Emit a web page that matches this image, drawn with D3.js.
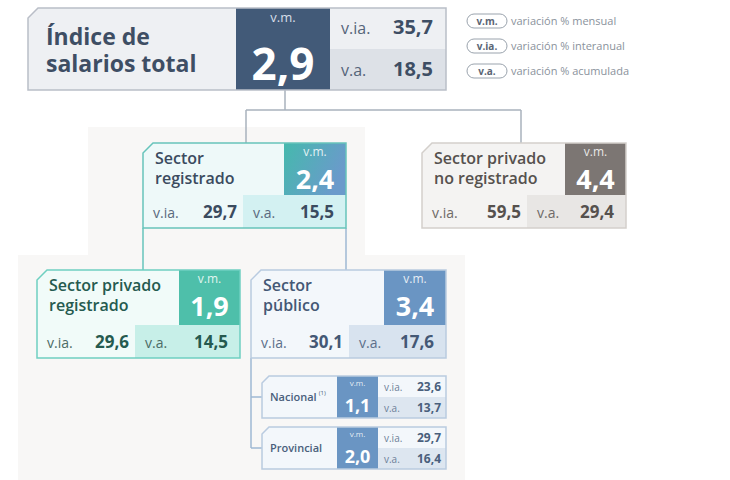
<!DOCTYPE html>
<html><head><meta charset="utf-8">
<script src="https://cdn.jsdelivr.net/npm/d3@7"></script>
<style>body{margin:0;background:#fff}svg{font-family:"Open Sans",sans-serif}</style>
</head><body><svg id="chart" width="730" height="480"></svg>
<script>
var svg = d3.select("#chart");

// background panels
svg.append("path").attr("fill", "#f8f7f6")
    .attr("d", "M88,127H365V255H465V480H18V255H88Z");

// nodes: box, vm block, bottom split, colours
var nodes = [
    {id: "total", title: ["Índice de", "salarios total"], vm: "2,9", via: "35,7", va: "18,5",
        x: 28, y: 8, w: 418, h: 82, vmx: 236, vmw: 94, layout: "right",
        border: "#b9bec7", bg: "#eef0f3", bg2: "#dde1e7", vmc: "#425a78", tc: "#3e4e64", lc: "#55657a", ts: 23},
    {id: "reg", title: ["Sector", "registrado"], vm: "2,4", via: "29,7", va: "15,5",
        x: 143, y: 143, w: 203, h: 85, vmx: 284, vmw: 62, split: 243, top: 52, layout: "bottom",
        border: "#67c4bb", bg: "#eef9f9", bg2: "#d3f1f2", vmc: "url(#gReg)", tc: "#3b4b5f", lc: "#5a6a7e", ts: 16},
    {id: "noreg", title: ["Sector privado", "no registrado"], vm: "4,4", via: "59,5", va: "29,4",
        x: 422, y: 143, w: 204, h: 85, vmx: 565, vmw: 61, split: 527, top: 52, layout: "bottom",
        border: "#d3cfcb", bg: "#f4f3f2", bg2: "#e8e6e4", vmc: "#7c7673", tc: "#56514e", lc: "#6f6a67", ts: 16},
    {id: "priv", title: ["Sector privado", "registrado"], vm: "1,9", via: "29,6", va: "14,5",
        x: 37, y: 270, w: 203, h: 88, vmx: 179, vmw: 61, split: 135, top: 55, layout: "bottom",
        border: "#6fd0c1", bg: "#f1fbf9", bg2: "#c7efe8", vmc: "#4ebfaa", tc: "#255a4f", lc: "#4c6c66", ts: 16},
    {id: "pub", title: ["Sector", "público"], vm: "3,4", via: "30,1", va: "17,6",
        x: 251, y: 270, w: 195, h: 88, vmx: 384, vmw: 62, split: 349, top: 55, layout: "bottom",
        border: "#b9cbe0", bg: "#f3f7fb", bg2: "#d8e3ef", vmc: "#6a95c3", tc: "#445875", lc: "#5c6f8a", ts: 16},
    {id: "nac", title: ["Nacional"], sup: "(1)", vm: "1,1", via: "23,6", va: "13,7",
        x: 262, y: 376, w: 184, h: 42, vmx: 337, vmw: 41, layout: "small",
        border: "#b9cbe0", bg: "#f3f7fb", bg2: "#dde6f0", vmc: "#6a95c3", tc: "#4a5f7c", lc: "#6c7f98", ts: 11},
    {id: "prov", title: ["Provincial"], vm: "2,0", via: "29,7", va: "16,4",
        x: 262, y: 427, w: 184, h: 42, vmx: 337, vmw: 41, layout: "small",
        border: "#b9cbe0", bg: "#f3f7fb", bg2: "#dde6f0", vmc: "#6a95c3", tc: "#4a5f7c", lc: "#6c7f98", ts: 11}
];

var defs = svg.append("defs");
var gr = defs.append("linearGradient").attr("id", "gReg").attr("x1", 0).attr("y1", 0).attr("x2", 1).attr("y2", 0.4);
gr.append("stop").attr("offset", 0).attr("stop-color", "#45b9ad");
gr.append("stop").attr("offset", 1).attr("stop-color", "#6b9acb");

// connectors
var line = d3.line();
var links = [
    [[285, 90], [285, 110]], [[246, 110], [521, 110]], [[246, 110], [246, 143]], [[521, 110], [521, 143]],
    [[143, 228], [143, 270]], [[346, 228], [346, 270]],
    [[251, 358], [251, 448]], [[251, 397], [262, 397]], [[251, 448], [262, 448]]
];
svg.append("g").selectAll("path").data(links).enter().append("path")
    .attr("d", line).attr("stroke", function (d, i) { return i < 4 ? "#a9b2bd" : (i < 5 ? "#67c4bb" : "#9fb8d3"); })
    .attr("stroke-width", 1.5).attr("fill", "none");

function txt(g, x, y, s, size, col, weight, anchor) {
    return g.append("text").attr("x", x).attr("y", y).text(s).attr("font-size", size)
        .attr("fill", col).attr("font-weight", weight || 400).attr("text-anchor", anchor || "start");
}

nodes.forEach(function (d) {
    var g = svg.append("g");
    var c = d.layout === "small" ? 7 : 10;
    var shape = "M" + (d.x + c) + "," + d.y + "H" + (d.x + d.w) + "V" + (d.y + d.h) + "H" + d.x + "V" + (d.y + c) + "Z";
    g.append("path").attr("d", shape).attr("fill", d.bg);
    if (d.layout === "right") {
        g.append("rect").attr("x", d.vmx + d.vmw).attr("y", d.y + d.h / 2).attr("width", d.x + d.w - d.vmx - d.vmw).attr("height", d.h / 2).attr("fill", d.bg2);
        g.append("rect").attr("x", d.vmx).attr("y", d.y).attr("width", d.vmw).attr("height", d.h).attr("fill", d.vmc);
        txt(g, 46, 45, d.title[0], 23, d.tc, 700);
        txt(g, 46, 72, d.title[1], 23, d.tc, 700);
        txt(g, d.vmx + d.vmw / 2, 22, "v.m.", 13, "#d7dee8", 400, "middle");
        txt(g, d.vmx + d.vmw / 2, 80, d.vm, 44, "#fff", 700, "middle");
        txt(g, 341, 34, "v.ia.", 16, d.lc);
        txt(g, 433, 34, d.via, 20, d.tc, 700, "end");
        txt(g, 341, 76, "v.a.", 16, d.lc);
        txt(g, 433, 76, d.va, 20, d.tc, 700, "end");
    } else if (d.layout === "bottom") {
        var by = d.y + d.top;
        g.append("rect").attr("x", d.split).attr("y", by).attr("width", d.x + d.w - d.split).attr("height", d.h - d.top).attr("fill", d.bg2);
        g.append("rect").attr("x", d.vmx).attr("y", d.y).attr("width", d.vmw).attr("height", d.top).attr("fill", d.vmc);
        txt(g, d.x + 12, d.y + 21, d.title[0], d.ts, d.tc, 600);
        txt(g, d.x + 12, d.y + 41, d.title[1], d.ts, d.tc, 600);
        var cx = d.vmx + d.vmw / 2;
        txt(g, cx, d.y + 13, "v.m.", 12, "rgba(255,255,255,0.85)", 400, "middle");
        txt(g, cx, d.y + 46, d.vm, 27, "#fff", 700, "middle");
        var ty = by + (d.h - d.top) / 2 + 6;
        txt(g, d.x + 10, ty, "v.ia.", 14, d.lc);
        txt(g, d.split - 6, ty, d.via, 17, d.tc, 700, "end");
        txt(g, d.split + 10, ty, "v.a.", 14, d.lc);
        txt(g, d.x + d.w - 12, ty, d.va, 17, d.tc, 700, "end");
    } else {
        var rx = d.vmx + d.vmw;
        g.append("rect").attr("x", rx).attr("y", d.y + d.h / 2).attr("width", d.x + d.w - rx).attr("height", d.h / 2).attr("fill", d.bg2);
        g.append("rect").attr("x", d.vmx).attr("y", d.y).attr("width", d.vmw).attr("height", d.h).attr("fill", d.vmc);
        var t = txt(g, d.x + 8, d.y + 25, d.title[0], d.ts, d.tc, 600);
        if (d.sup) txt(g, d.x + 10 + t.node().getComputedTextLength(), d.y + 19, d.sup, 6, d.tc, 400);
        txt(g, d.vmx + d.vmw / 2, d.y + 10, "v.m.", 8, "rgba(255,255,255,0.85)", 400, "middle");
        txt(g, d.vmx + d.vmw / 2, d.y + 36, d.vm, 18, "#fff", 700, "middle");
        txt(g, rx + 6, d.y + 15, "v.ia.", 10, d.lc);
        txt(g, d.x + d.w - 5, d.y + 15, d.via, 12, d.tc, 700, "end");
        txt(g, rx + 6, d.y + 36, "v.a.", 10, d.lc);
        txt(g, d.x + d.w - 5, d.y + 36, d.va, 12, d.tc, 700, "end");
    }
    g.append("path").attr("d", shape).attr("fill", "none").attr("stroke", d.border).attr("stroke-width", 1.5);
});

// legend
var legend = [["v.m.", "variación % mensual"], ["v.ia.", "variación % interanual"], ["v.a.", "variación % acumulada"]];
var lg = svg.append("g").selectAll("g").data(legend).enter().append("g")
    .attr("transform", function (d, i) { return "translate(467," + (14 + i * 25) + ")"; });
lg.append("rect").attr("width", 40).attr("height", 14).attr("rx", 7).attr("fill", "#fff").attr("stroke", "#9aa3ad");
lg.append("text").attr("x", 20).attr("y", 11).attr("text-anchor", "middle").attr("font-size", 10).attr("font-weight", 700)
    .attr("fill", "#5a6574").text(function (d) { return d[0]; });
lg.append("text").attr("x", 44).attr("y", 11).attr("font-size", 11).attr("fill", "#8a929c").text(function (d) { return d[1]; });
</script></body></html>
